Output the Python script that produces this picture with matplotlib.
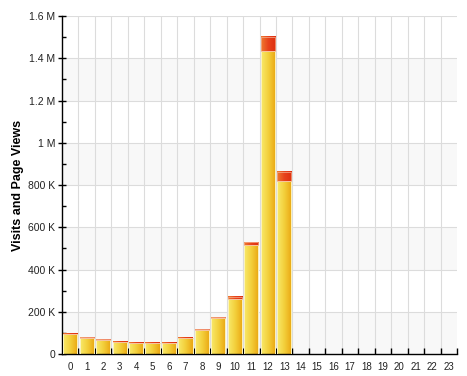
import matplotlib
matplotlib.use('Agg')
import matplotlib.pyplot as plt
import numpy as np
from matplotlib.colors import LinearSegmentedColormap
from matplotlib.patches import Rectangle

hours = list(range(24))
visits = [93, 77, 68, 57, 52, 52, 52, 76, 114, 170, 260, 516, 1434, 819]        # thousands
page_extra = [2, 2, 1, 1, 1, 1, 1, 2, 3, 4, 10, 14, 68, 44]                   # thousands on top
ytick_vals = [0, 200, 400, 600, 800, 1000, 1200, 1400, 1600]
ytick_labels = ['0', '200 K', '400 K', '600 K', '800 K', '1 M', '1.2 M', '1.4 M', '1.6 M']

plt.rcParams['font.family'] = ['Liberation Sans', 'DejaVu Sans']

fig = plt.figure(figsize=(4.67, 3.76), dpi=100)
ax = fig.add_axes([0.1328, 0.0585, 0.8458, 0.8989])

yellow = LinearSegmentedColormap.from_list('y', ['#f8ea6a', '#f3cf3a', '#eaa612'])
red = LinearSegmentedColormap.from_list('r', ['#ef7a30', '#e8421c', '#dd3010'])
grad = np.linspace(0, 1, 64).reshape(1, -1)

# alternating bands
for i, lo in enumerate(ytick_vals[:-1]):
    if i % 2 == 0:
        ax.axhspan(lo, lo + 200, color='#f8f8f8', zorder=0, lw=0)
for v in ytick_vals[1:]:
    ax.axhline(v, color='#dcdcdc', lw=0.8, zorder=1)
for x in np.arange(0.5, 23.5, 1):
    ax.axvline(x, color='#dcdcdc', lw=0.8, zorder=1)

w = 0.86
for i, (v, e) in enumerate(zip(visits, page_extra)):
    x0 = i - w / 2
    ax.imshow(grad, cmap=yellow, aspect='auto', extent=(x0, x0 + w, 0, v), zorder=2)
    ax.add_patch(Rectangle((x0, 0), w, v, fill=False, ec='#fbf3c0', lw=0.7, zorder=3))
    ax.imshow(grad, cmap=red, aspect='auto', extent=(x0, x0 + w, v, v + e), zorder=2)
    ax.add_patch(Rectangle((x0, v), w, e, fill=False, ec='#f5b090', lw=0.5, zorder=3))

ax.set_xlim(-0.5, 23.5)
ax.set_ylim(0, 1600)

for s in ['top', 'right']:
    ax.spines[s].set_visible(False)
for s in ['left', 'bottom']:
    ax.spines[s].set_color('black')
    ax.spines[s].set_linewidth(1.0)

ax.set_xticks(hours)
ax.set_xticklabels([str(h) for h in hours], fontsize=7, color='#222222')
ax.tick_params(axis='x', length=0, pad=6)
ax.set_xticks(np.arange(0.5, 24, 1), minor=True)
ax.tick_params(axis='x', which='minor', direction='in', length=4, width=1)

ax.set_yticks(ytick_vals)
ax.set_yticklabels(ytick_labels, fontsize=7.5, color='#222222')
ax.tick_params(axis='y', direction='inout', length=6, width=1, pad=2)
ax.set_yticks(np.arange(100, 1600, 200), minor=True)
ax.tick_params(axis='y', which='minor', direction='in', length=3, width=1)

ax.set_ylabel('Visits and Page Views', fontsize=9, fontweight='bold')
ax.yaxis.set_label_coords(-0.097, 0.5)

fig.savefig('out.png', dpi=100)
